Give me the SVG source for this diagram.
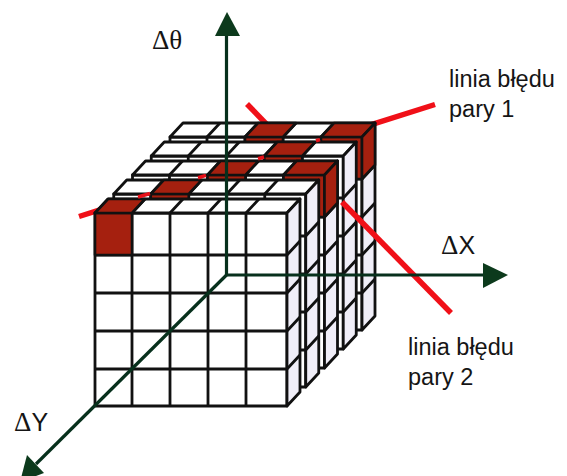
<svg xmlns="http://www.w3.org/2000/svg" xmlns:xlink="http://www.w3.org/1999/xlink" width="567" height="476" viewBox="0 0 567 476">
<style>
.f{fill:#fff;stroke:#111;stroke-width:2.8;stroke-linejoin:round}
.s{fill:#f0eef8;stroke:#111;stroke-width:2.8;stroke-linejoin:round}
.l{stroke:#111;stroke-width:2.8;fill:none}
.r{fill:#a5200f;stroke:#111;stroke-width:2.6;stroke-linejoin:round}
.red{stroke:#f01018;stroke-width:5.500;fill:none}
.red2{stroke:#e81018;stroke-width:3.500;fill:none}
.ax{stroke:#07301c;stroke-width:3.200;fill:none}
.hd{fill:#0c3a1c}
.t{font-family:"Liberation Sans",Arial,sans-serif;font-size:23.500px;fill:#151515}
.g{font-family:"Liberation Sans",Arial,sans-serif;font-size:25px;fill:#151515}
.d{font-family:"Liberation Serif","Times New Roman",serif;font-size:27px}
</style>
<defs>
<g id="slice">
<rect class="f" x="95" y="213" width="192" height="193"/>
<polygon class="f" points="95,213 108,199 300,199 287,213"/>
<polygon class="s" points="287,213 300,199 300,392 287,406"/>
<path class="l" d="M132,213V406M170,213V406M208,213V406M246,213V406M95,255H287M95,293H287M95,331H287M95,369H287M132,213L145,199M170,213L183,199M208,213L221,199M246,213L259,199M287,255L300,241M287,293L300,279M287,331L300,317M287,369L300,355"/>
</g>
<polygon id="t0" class="r" points="95,213 108,199 145,199 132,213"/>
<polygon id="t1" class="r" points="132,213 145,199 183,199 170,213"/>
<polygon id="t2" class="r" points="170,213 183,199 221,199 208,213"/>
<polygon id="t3" class="r" points="208,213 221,199 259,199 246,213"/>
<polygon id="t4" class="r" points="246,213 259,199 300,199 287,213"/>
<rect id="c0" class="r" x="95" y="213" width="37" height="42"/>
<rect id="c1" class="r" x="132" y="213" width="38" height="42"/>
<rect id="c2" class="r" x="170" y="213" width="38" height="42"/>
<rect id="c3" class="r" x="208" y="213" width="38" height="42"/>
<rect id="c4" class="r" x="246" y="213" width="41" height="42"/>
<polygon id="sr" class="r" points="287,213 300,199 300,241 287,255"/>
</defs>
<g id="lines-behind">
<path class="red" d="M79,216.500L110,206.700M365,126.700L435,104.500"/>
<path class="red" d="M247,104L275,133"/>
</g>
<g id="cube">
<g id="slice-5" transform="translate(75,-76)"><use xlink:href="#slice"/><use xlink:href="#c2"/><use xlink:href="#c4"/><use xlink:href="#t2"/><use xlink:href="#t4"/><use xlink:href="#sr"/></g>
<g id="slice-4" transform="translate(56.250,-57)"><use xlink:href="#slice"/><use xlink:href="#c3"/><use xlink:href="#t3"/></g>
<g id="slice-3" transform="translate(37.500,-38)"><use xlink:href="#slice"/><use xlink:href="#c2"/><use xlink:href="#c4"/><use xlink:href="#t2"/><use xlink:href="#t4"/><use xlink:href="#sr"/></g>
<g id="slice-2" transform="translate(18.750,-19)"><use xlink:href="#slice"/><use xlink:href="#c1"/><use xlink:href="#t1"/></g>
<g id="slice-1"><use xlink:href="#slice"/><use xlink:href="#c0"/><use xlink:href="#t0"/></g>
</g>
<g id="connectors">
<path class="red2" d="M138,197L150,193.500M198,177.800L206,175.400M258,158.800L264,157M316,140.800L320,139.600"/>
<path class="red" d="M342,202L451,313"/>
<path class="ax" d="M226.500,275V34"/>
<polygon class="hd" points="227,12 240,36 215,36"/>
<path class="ax" d="M226,275H486"/>
<polygon class="hd" points="508,275 483,263 483,288"/>
<path class="ax" d="M226.500,275L36,464"/>
<polygon class="hd" points="27,455 44,473 20,482"/>
</g>
<g id="labels">
<text class="g" x="152" y="49"><tspan class="d">Δθ</tspan></text>
<text class="g" x="441" y="254"><tspan class="d">Δ</tspan>X</text>
<text class="g" x="14" y="431"><tspan class="d">Δ</tspan>Y</text>
<text class="t" x="449" y="87">linia błędu</text>
<text class="t" x="449" y="117">pary 1</text>
<text class="t" x="408" y="355">linia błędu</text>
<text class="t" x="408" y="385">pary 2</text>
</g>
</svg>
